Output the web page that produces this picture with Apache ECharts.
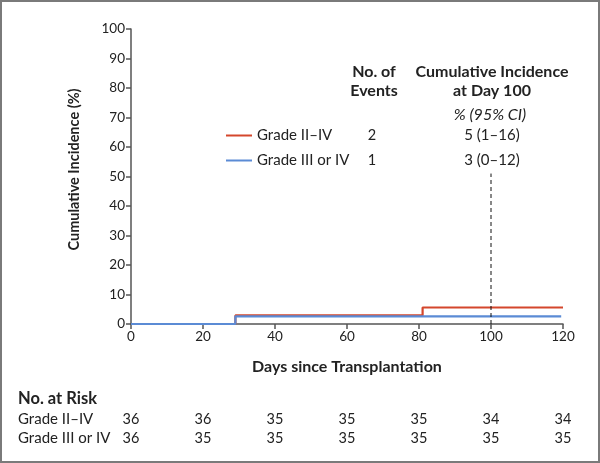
<!DOCTYPE html>
<html>
<head>
<meta charset="utf-8">
<title>Cumulative Incidence</title>
<script src="https://cdn.jsdelivr.net/npm/echarts@6/dist/echarts.min.js"></script>
<style>
  html, body { margin: 0; padding: 0; background: #fff; }
  #main { width: 600px; height: 463px; }
</style>
</head>
<body>
<div id="main"></div>
<script>
// data
var groupNames = ['Grade II–IV', 'Grade III or IV'];
var gradeIItoIV = [[0, 0], [29, 2.9], [81, 5.6], [120, 5.6]];
var gradeIIIorIV = [[0, 0], [29, 2.6], [119.5, 2.6]];
var day100Line = [[100, 0], [100, 51]];
var eventCounts = ['2', '1'];
var incidenceAt100 = ['5 (1–16)', '3 (0–12)'];
var riskDays = [0, 20, 40, 60, 80, 100, 120];
var riskIItoIV = [36, 36, 35, 35, 35, 34, 34];
var riskIIIorIV = [36, 35, 35, 35, 35, 35, 35];

var FONT = 'Lato';
var RED = '#d4472c';
var BLUE = '#5b8bd5';
var AXIS = '#555';

var myChart = echarts.init(document.getElementById('main'));

var option = {
  animation: false,
  textStyle: { fontFamily: FONT },
  grid: { left: 131, right: 37, top: 29, bottom: 139 },
  legend: {
    data: groupNames,
    orient: 'vertical',
    left: 226,
    top: 128,
    padding: 0,
    itemWidth: 26,
    itemHeight: 2,
    itemGap: 10,
    icon: 'rect',
    textStyle: { fontFamily: FONT, fontSize: 15, color: '#222' }
  },
  xAxis: {
    type: 'value',
    min: 0, max: 120, interval: 20,
    name: 'Days since Transplantation',
    nameLocation: 'middle',
    nameGap: 35,
    nameTextStyle: { fontFamily: FONT, fontSize: 16, fontWeight: 'bold', color: '#222' },
    axisLine: { lineStyle: { color: AXIS, width: 1.5 } },
    axisTick: { length: 5, lineStyle: { color: AXIS, width: 1.5 } },
    axisLabel: { fontFamily: FONT, fontSize: 13.5, color: '#222', margin: 6 },
    splitLine: { show: false }
  },
  yAxis: {
    type: 'value',
    min: 0, max: 100, interval: 10,
    name: 'Cumulative Incidence (%)',
    nameLocation: 'middle',
    nameRotate: 90,
    nameGap: 49,
    nameTextStyle: { fontFamily: FONT, fontSize: 14.5, fontWeight: 'bold', color: '#222', padding: [0, 0, 0, 14] },
    axisLine: { show: true, lineStyle: { color: AXIS, width: 1.5 } },
    axisTick: { show: true, length: 5, lineStyle: { color: AXIS, width: 1.5 } },
    axisLabel: { fontFamily: FONT, fontSize: 13.5, color: '#222', margin: 6 },
    splitLine: { show: false }
  },
  series: [
    {
      name: groupNames[0], type: 'line', step: 'end', data: gradeIItoIV,
      showSymbol: false, color: RED, lineStyle: { width: 2.2, color: RED }
    },
    {
      name: groupNames[1], type: 'line', step: 'end', data: gradeIIIorIV,
      showSymbol: false, color: BLUE, lineStyle: { width: 2.2, color: BLUE }
    },
    {
      name: 'day100', type: 'line', data: day100Line, showSymbol: false, silent: true,
      lineStyle: { width: 1, color: '#111', type: [4, 3] }
    }
  ]
};
myChart.setOption(option);

function txt(x, y, s, opts) {
  opts = opts || {};
  var size = opts.size || 15;
  var weight = opts.weight || 'normal';
  var fstyle = opts.style || 'normal';
  return {
    type: 'text', x: x, y: y,
    style: {
      text: s,
      font: fstyle + ' ' + weight + ' ' + size + 'px ' + (opts.font || FONT),
      fill: '#222', align: opts.align || 'left', verticalAlign: 'middle'
    }
  };
}

var g = [
  { type: 'rect', shape: { x: 1, y: 1, width: 598, height: 461 },
    style: { fill: 'none', stroke: '#7a7a7a', lineWidth: 2 } },
  txt(374, 72, 'No. of', { weight: 'bold', align: 'center', size: 16 }),
  txt(374, 91, 'Events', { weight: 'bold', align: 'center', size: 16 }),
  txt(492, 72, 'Cumulative Incidence', { weight: 'bold', align: 'center', size: 16 }),
  txt(492, 91, 'at Day 100', { weight: 'bold', align: 'center', size: 16 }),
  txt(490, 115, '% (95% CI)', { style: 'italic', align: 'center', size: 16 }),
  txt(18, 399, 'No. at Risk', { weight: 'bold', size: 16.5 }),
  txt(18, 419, groupNames[0]),
  txt(18, 438, groupNames[1])
];
var rowY = [135, 160];
for (var i = 0; i < groupNames.length; i++) {
  g.push(txt(372, rowY[i], eventCounts[i], { align: 'center', size: 14.5 }));
  g.push(txt(492, rowY[i], incidenceAt100[i], { align: 'center' }));
}
for (var j = 0; j < riskDays.length; j++) {
  var px = myChart.convertToPixel({ xAxisIndex: 0 }, riskDays[j]);
  g.push(txt(px, 419, String(riskIItoIV[j]), { align: 'center', size: 14.5 }));
  g.push(txt(px, 438, String(riskIIIorIV[j]), { align: 'center', size: 14.5 }));
}
myChart.setOption({ graphic: g });
</script>
</body>
</html>
